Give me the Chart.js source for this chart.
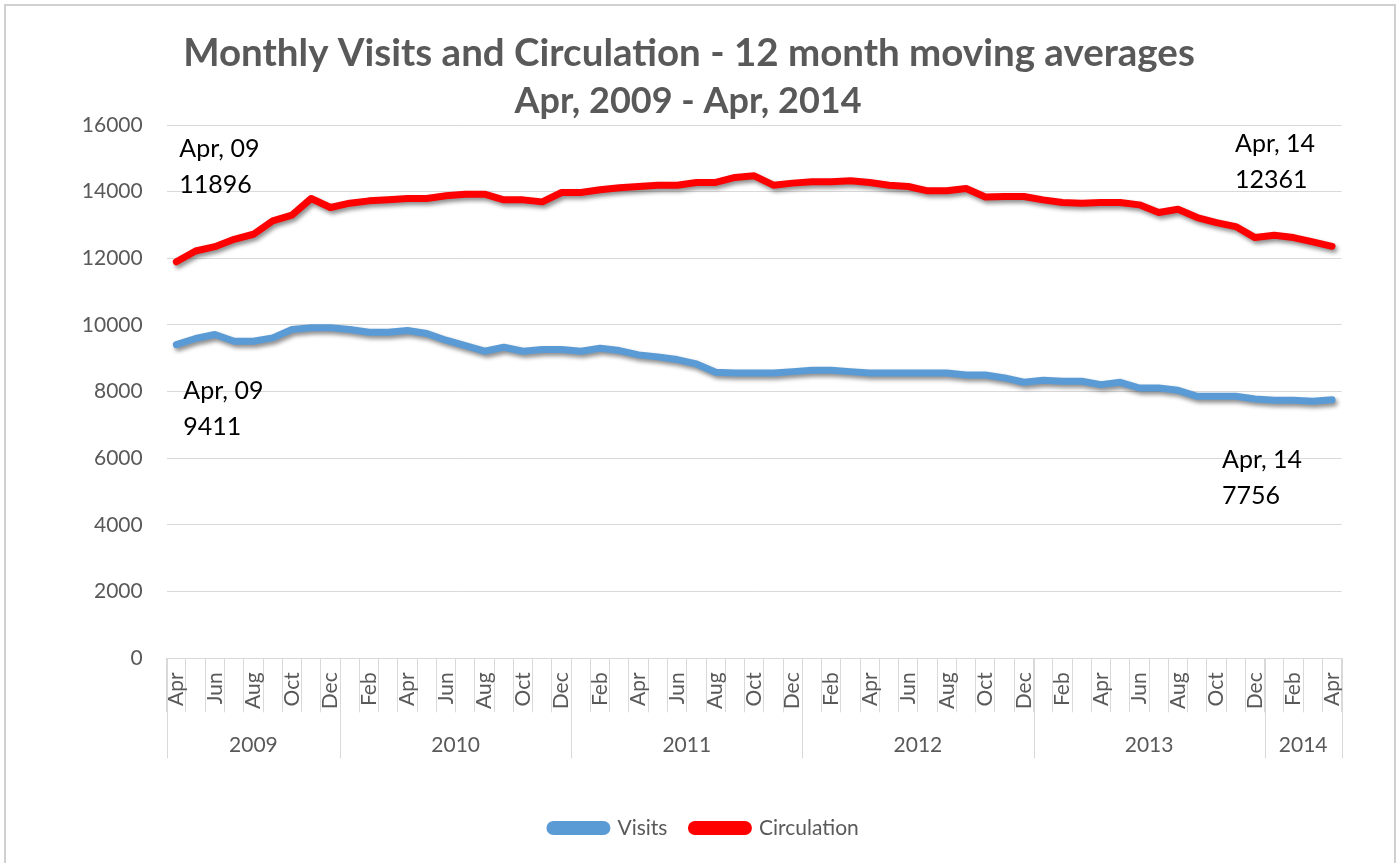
<!DOCTYPE html>
<html>
<head>
<meta charset="utf-8">
<script src="https://cdn.jsdelivr.net/npm/chart.js@4.4.0/dist/chart.umd.min.js"></script>
<style>
  html, body { margin: 0; padding: 0; background: #fff; }
  canvas { display: block; }
</style>
</head>
<body>
<canvas id="chart" width="1397" height="863"></canvas>
<script>
// month categories, Apr 2009 .. Apr 2014
var months = [
  'Apr','May','Jun','Jul','Aug','Sep','Oct','Nov','Dec',
  'Jan','Feb','Mar','Apr','May','Jun','Jul','Aug','Sep','Oct','Nov','Dec',
  'Jan','Feb','Mar','Apr','May','Jun','Jul','Aug','Sep','Oct','Nov','Dec',
  'Jan','Feb','Mar','Apr','May','Jun','Jul','Aug','Sep','Oct','Nov','Dec',
  'Jan','Feb','Mar','Apr','May','Jun','Jul','Aug','Sep','Oct','Nov','Dec',
  'Jan','Feb','Mar','Apr'
];
var years = ['2009','2010','2011','2012','2013','2014'];
var monthsInYear = [9, 12, 12, 12, 12, 4];

var visits = [
  9411, 9594, 9714, 9513, 9513, 9614, 9865, 9915, 9915, 9865,
  9784, 9784, 9835, 9744, 9543, 9383, 9213, 9333, 9213, 9263,
  9263, 9213, 9303, 9233, 9103, 9043, 8962, 8832, 8581, 8561,
  8561, 8561, 8601, 8641, 8641, 8601, 8561, 8561, 8561, 8561,
  8561, 8500, 8500, 8411, 8281, 8341, 8311, 8311, 8211, 8281,
  8110, 8110, 8040, 7860, 7860, 7860, 7780, 7739, 7739, 7709,
  7756
];
var circulation = [
  11896, 12220, 12350, 12571, 12722, 13123, 13293, 13795, 13524, 13654,
  13724, 13754, 13795, 13795, 13875, 13925, 13925, 13754, 13754, 13694,
  13975, 13975, 14055, 14115, 14155, 14195, 14195, 14276, 14276, 14426,
  14476, 14195, 14256, 14296, 14296, 14326, 14276, 14195, 14155, 14025,
  14025, 14095, 13840, 13855, 13855, 13754, 13674, 13654, 13674, 13674,
  13604, 13374, 13474, 13223, 13073, 12953, 12622, 12692, 12622, 12491,
  12361
];
var yTicks = [0, 2000, 4000, 6000, 8000, 10000, 12000, 14000, 16000];

var titleLines = ['Monthly Visits and Circulation - 12 month moving averages', 'Apr, 2009 - Apr, 2014'];

// end-point callouts: [dataset index, point index, label]
var callouts = [
  [1, 0, 'Apr, 09'],
  [0, 0, 'Apr, 09'],
  [1, 60, 'Apr, 14'],
  [0, 60, 'Apr, 14']
];

var gray = '#595959';
var gridColor = '#d9d9d9';
var font = 'Lato, "Open Sans", sans-serif';

var frame = {
  id: 'frame',
  beforeDraw: function(chart) {
    var ctx = chart.ctx;
    ctx.save();
    ctx.strokeStyle = '#d0d0d0';
    ctx.lineWidth = 2;
    ctx.strokeRect(5, 5, 1390, 880);
    // title
    ctx.fillStyle = gray;
    ctx.textAlign = 'center';
    ctx.textBaseline = 'alphabetic';
    ctx.font = 'bold 38.5px ' + font;
    ctx.fillText(titleLines[0], 689, 66);
    ctx.font = 'bold 36px ' + font;
    ctx.fillText(titleLines[1], 688, 113);
    ctx.restore();
  }
};

var shadow = {
  id: 'shadow',
  beforeDatasetsDraw: function(chart) {
    var ctx = chart.ctx;
    ctx.save();
    ctx.shadowColor = 'rgba(0,0,0,0.45)';
    ctx.shadowBlur = 4;
    ctx.shadowOffsetX = 2;
    ctx.shadowOffsetY = 3;
  },
  afterDatasetsDraw: function(chart) {
    chart.ctx.restore();
  }
};

var yearAxis = {
  id: 'yearAxis',
  afterDraw: function(chart) {
    var ctx = chart.ctx;
    var x = chart.scales.x;
    var half = x.width / months.length / 2;
    var top = x.top;
    ctx.save();
    ctx.strokeStyle = gridColor;
    ctx.lineWidth = 1;
    ctx.fillStyle = gray;
    ctx.font = '21px ' + font;
    ctx.textAlign = 'center';
    ctx.textBaseline = 'middle';
    var start = 0;
    for (var i = 0; i < years.length; i++) {
      var end = start + monthsInYear[i];
      var x0 = x.getPixelForValue(start) - half;
      var x1 = x.getPixelForValue(end - 1) + half;
      ctx.beginPath();
      ctx.moveTo(Math.round(x0) + 0.5, top);
      ctx.lineTo(Math.round(x0) + 0.5, top + 100);
      ctx.moveTo(Math.round(x1) + 0.5, top);
      ctx.lineTo(Math.round(x1) + 0.5, top + 100);
      ctx.stroke();
      ctx.fillText(years[i], (x0 + x1) / 2, top + 87);
      start = end;
    }
    // callouts
    ctx.fillStyle = '#000';
    ctx.font = '25px ' + font;
    ctx.textAlign = 'left';
    ctx.textBaseline = 'alphabetic';
    callouts.forEach(function(c) {
      var pt = chart.getDatasetMeta(c[0]).data[c[1]];
      var val = chart.data.datasets[c[0]].data[c[1]];
      var dx, dy;
      if (c[1] === 0) { dx = c[0] === 1 ? 3 : 7; dy = c[0] === 1 ? -105 : 54; }
      else { dx = c[0] === 1 ? -97 : -110; dy = c[0] === 1 ? -94 : 68; }
      ctx.fillText(c[2], pt.x + dx, pt.y + dy);
      ctx.fillText(String(val), pt.x + dx, pt.y + dy + 36);
    });
    ctx.restore();
  }
};

var shiftLegend = {
  id: 'shiftLegend',
  afterLayout: function(chart) {
    chart.legend.left += 31;
    chart.legend.right += 31;
  }
};

new Chart(document.getElementById('chart'), {
  type: 'line',
  data: {
    labels: months,
    datasets: [
      {
        label: 'Visits',
        data: visits,
        borderColor: '#5B9BD5',
        backgroundColor: '#5B9BD5',
        borderWidth: 7,
        borderCapStyle: 'round',
        borderJoinStyle: 'round',
        pointRadius: 0,
        tension: 0
      },
      {
        label: 'Circulation',
        data: circulation,
        borderColor: '#FF0000',
        backgroundColor: '#FF0000',
        borderWidth: 7,
        borderCapStyle: 'round',
        borderJoinStyle: 'round',
        pointRadius: 0,
        tension: 0
      }
    ]
  },
  options: {
    responsive: false,
    animation: false,
    devicePixelRatio: 1,
    layout: { padding: { left: 5, top: 125, right: 55.3, bottom: 14.5 } },
    plugins: {
      title: { display: false },
      tooltip: { enabled: false },
      legend: {
        position: 'bottom',
        labels: {
          boxWidth: 57,
          boxHeight: 7,
          padding: 24,
          useBorderRadius: true,
          borderRadius: 3.5,
          color: gray,
          font: { family: font, size: 21 }
        }
      }
    },
    scales: {
      x: {
        offset: true,
        grid: { offset: true, drawOnChartArea: false, drawTicks: true, tickLength: 54, color: gridColor },
        border: { display: true, color: gridColor },
        ticks: {
          autoSkip: false,
          maxRotation: 90,
          minRotation: 90,
          padding: -40,
          color: gray,
          font: { family: font, size: 21 },
          callback: function(v, i) { return i % 2 === 0 ? months[i] : ''; }
        },
        afterFit: function(s) { s.height = 135.2; }
      },
      y: {
        min: 0,
        max: 16000,
        afterBuildTicks: function(s) { s.ticks = yTicks.map(function(v) { return { value: v }; }); },
        grid: { color: gridColor, drawTicks: false },
        border: { display: false },
        ticks: {
          padding: 24,
          color: gray,
          font: { family: font, size: 21 },
          callback: function(v) { return String(v); }
        },
        afterFit: function(s) { s.width = 161.7; }
      }
    }
  },
  plugins: [frame, shadow, yearAxis, shiftLegend]
});
</script>
</body>
</html>
